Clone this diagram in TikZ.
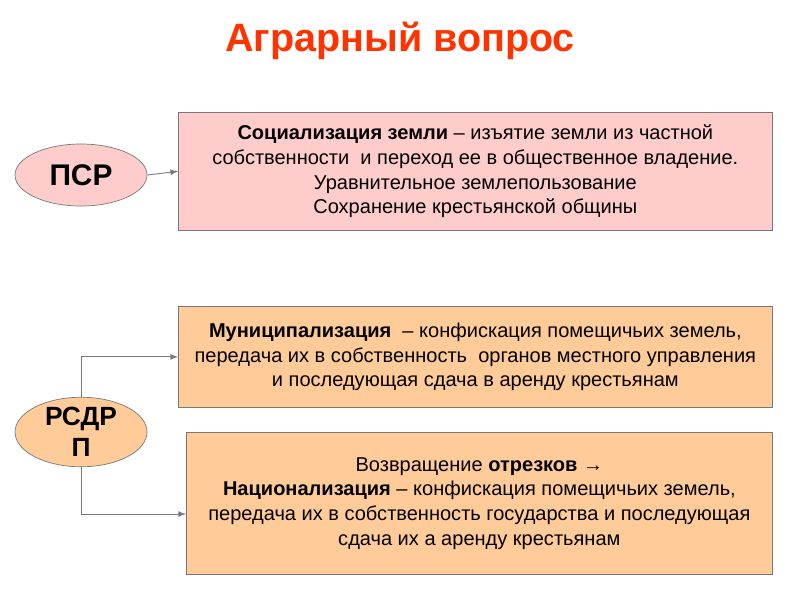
\documentclass[tikz,border=0pt]{standalone}
\usepackage{fontspec}
\setmainfont{Liberation Sans}
\usetikzlibrary{shapes.geometric}

\definecolor{titlered}{RGB}{255,51,0}
\definecolor{pinkfill}{RGB}{255,204,204}
\definecolor{orangefill}{RGB}{255,204,153}
\definecolor{edgegray}{RGB}{120,120,120}

\newlength{\pxu}
\setlength{\pxu}{0.02cm}
\tikzset{
  party/.style={ellipse, draw=edgegray, minimum width=132\pxu, minimum height=62\pxu,
    inner sep=0pt, font=\fontsize{17}{20}\selectfont\bfseries, align=center},
  textbox/.style={rectangle, draw=edgegray, anchor=north west, inner sep=0pt,
    font=\fontsize{11.4}{14.1}\selectfont, align=center},
  link/.style={draw=edgegray, -latex, line width=0.5pt}
}

\begin{document}
\begin{tikzpicture}[x=0.02cm, y=-0.02cm]
  % Canvas
  \useasboundingbox (0,0) rectangle (800,600);

  % Title
  \node[text=titlered, font=\fontsize{22.5}{25}\selectfont\bfseries] (title) at (400,41) {Аграрный вопрос};

  % Parties
  \node[party, fill=pinkfill] (psr) at (81,175) {ПСР};
  \node[party, fill=orangefill, font=\fontsize{15}{17.5}\selectfont\bfseries] (rsdrp) at (81,432) {РСДР\\П};

  % Boxes
  \node[textbox, fill=pinkfill, minimum width=594\pxu, minimum height=118\pxu] (soc) at (178,112)
    {\textbf{Социализация земли} – изъятие земли из частной\\
     собственности\ \ и переход ее в общественное владение.\\
     Уравнительное землепользование\\
     Сохранение крестьянской общины};
  \node[textbox, fill=orangefill, minimum width=594\pxu, minimum height=101\pxu] (mun) at (178,306)
    {\textbf{Муниципализация}\ \ – конфискация помещичьих земель,\\
     передача их в собственность\ \ органов местного управления\\
     и последующая сдача в аренду крестьянам};
  \node[textbox, fill=orangefill, minimum width=586\pxu, minimum height=142\pxu] (nat) at (186,432)
    {Возвращение \textbf{отрезков} →\\
     \textbf{Национализация} – конфискация помещичьих земель,\\
     передача их в собственность государства и последующая\\
     сдача их а аренду крестьянам};

  % Connectors
  \draw[link] (psr.east) -- (soc.west);
  \draw[link] (rsdrp.north) |- (mun.west);
  \coordinate (natin) at (nat.north west |- 0,514);
  \draw[link] (rsdrp.south) |- (natin);
\end{tikzpicture}
\end{document}
